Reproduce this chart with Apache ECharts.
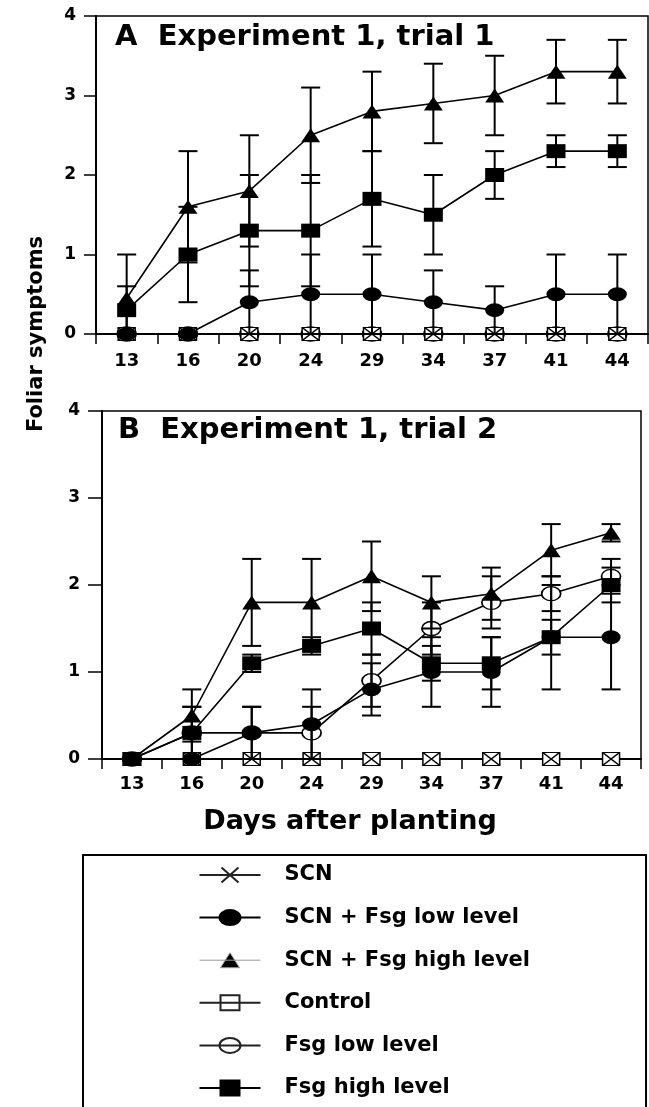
<!DOCTYPE html>
<html><head><meta charset="utf-8">
<script src="https://cdn.jsdelivr.net/npm/echarts@6/dist/echarts.min.js"></script>
<style>html,body{margin:0;padding:0;background:#fff}#c{width:649px;height:1107px}</style>
</head><body><div id="c"></div>
<script>
// ---------- data ----------
const days = ['13','16','20','24','29','34','37','41','44'];
const legendNames = ['SCN','SCN + Fsg low level','SCN + Fsg high level','Control','Fsg low level','Fsg high level'];

// Panel A : Experiment 1, trial 1
const aSCN        = [0,0,0,0,0,0,0,0,0];
const aSCNLow     = [0,0,0.4,0.5,0.5,0.4,0.3,0.5,0.5];
const aSCNLowErr  = [0,0,0.4,0.5,0.5,0.4,0.3,0.5,0.5];
const aSCNHigh    = [0.45,1.6,1.8,2.5,2.8,2.9,3.0,3.3,3.3];
const aSCNHighErr = [0.55,0.7,0.7,0.6,0.5,0.5,0.5,0.4,0.4];
const aControl    = [0,0,0,0,0,0,0,0,0];
const aFsgLow     = [0,0,0,0,0,0,0,0,0];
const aFsgLowErr  = [0,0,0,0,0,0,0,0,0];
const aFsgHigh    = [0.3,1.0,1.3,1.3,1.7,1.5,2.0,2.3,2.3];
const aFsgHighErr = [0.3,0.6,0.7,0.7,0.6,0.5,0.3,0.2,0.2];

// Panel B : Experiment 1, trial 2
const bSCN        = [0,0,0,0,0,0,0,0,0];
const bSCNLow     = [0,0,0.3,0.4,0.8,1.0,1.0,1.4,1.4];
const bSCNLowErr  = [0,0,0.3,0.4,0.3,0.4,0.4,0.6,0.6];
const bSCNHigh    = [0,0.5,1.8,1.8,2.1,1.8,1.9,2.4,2.6];
const bSCNHighErr = [0,0.3,0.5,0.5,0.4,0.3,0.3,0.3,0.1];
const bControl    = [0,0,0,0,0,0,0,0,0];
const bFsgLow     = [0,0.3,0.3,0.3,0.9,1.5,1.8,1.9,2.1];
const bFsgLowErr  = [0,0.3,0.3,0.3,0.3,0.3,0.3,0.2,0.2];
const bFsgHigh    = [0,0.3,1.1,1.3,1.5,1.1,1.1,1.4,2.0];
const bFsgHighErr = [0,0.3,0.1,0.1,0.3,0.2,0.3,0.2,0.2];

const yMin = 0, yMax = 4, yStep = 1;

// ---------- styles ----------
const FONT = 'DejaVu Sans';
const XPATH = 'path://M0,0L17,13M17,0L0,13';
const styles = {
  'SCN':                 {symbol: XPATH, symbolSize: [17,13], itemStyle: {color: 'none', borderColor: '#000', borderWidth: 1.3}},
  'SCN + Fsg low level': {symbol: 'circle', symbolSize: [19,14], itemStyle: {color: '#000', borderColor: '#000', borderWidth: 0}},
  'SCN + Fsg high level':{symbol: 'triangle', symbolSize: [19,14], itemStyle: {color: '#000', borderColor: '#000', borderWidth: 0}},
  'Control':             {symbol: 'rect', symbolSize: [17,13], itemStyle: {color: '#fff', borderColor: '#000', borderWidth: 1.3}},
  'Fsg low level':       {symbol: 'circle', symbolSize: [19,14], itemStyle: {color: '#fff', borderColor: '#000', borderWidth: 1.5}},
  'Fsg high level':      {symbol: 'rect', symbolSize: [19,14], itemStyle: {color: '#000', borderColor: '#000', borderWidth: 0}}
};
const drawOrder = ['Fsg low level','Control','SCN','SCN + Fsg low level','SCN + Fsg high level','Fsg high level'];

const panels = [
  {vals: {'SCN': aSCN, 'SCN + Fsg low level': aSCNLow, 'SCN + Fsg high level': aSCNHigh, 'Control': aControl, 'Fsg low level': aFsgLow, 'Fsg high level': aFsgHigh},
   errs: {'SCN + Fsg low level': aSCNLowErr, 'SCN + Fsg high level': aSCNHighErr, 'Fsg low level': aFsgLowErr, 'Fsg high level': aFsgHighErr}},
  {vals: {'SCN': bSCN, 'SCN + Fsg low level': bSCNLow, 'SCN + Fsg high level': bSCNHigh, 'Control': bControl, 'Fsg low level': bFsgLow, 'Fsg high level': bFsgHigh},
   errs: {'SCN + Fsg low level': bSCNLowErr, 'SCN + Fsg high level': bSCNHighErr, 'Fsg low level': bFsgLowErr, 'Fsg high level': bFsgHighErr}}
];

const series = [];
panels.forEach((p, pi) => {
  drawOrder.forEach(name => {
    const st = styles[name];
    series.push({
      name, type: 'line', xAxisIndex: pi, yAxisIndex: pi,
      data: p.vals[name], symbol: st.symbol, symbolSize: st.symbolSize,
      itemStyle: st.itemStyle, lineStyle: {color: '#000', width: 1.6},
      showAllSymbol: true, animation: false, z: 3
    });
  });
  const errData = [];
  Object.keys(p.errs).forEach(name => {
    p.errs[name].forEach((e, i) => { if (e > 0) errData.push([i, p.vals[name][i], e]); });
  });
  series.push({
    name: 'err' + pi, type: 'custom', xAxisIndex: pi, yAxisIndex: pi, z: 4, animation: false,
    data: errData, encode: {x: 0, y: 1},
    renderItem: function (params, api) {
      const i = api.value(0), v = api.value(1), e = api.value(2);
      const top = api.coord([i, Math.min(yMax, v + e)]);
      const bot = api.coord([i, Math.max(yMin, v - e)]);
      const hw = 9.5;
      const st = {stroke: '#000', lineWidth: 2};
      return {type: 'group', children: [
        {type: 'line', shape: {x1: top[0], y1: top[1], x2: bot[0], y2: bot[1]}, style: st},
        {type: 'line', shape: {x1: top[0]-hw, y1: top[1], x2: top[0]+hw, y2: top[1]}, style: st},
        {type: 'line', shape: {x1: bot[0]-hw, y1: bot[1], x2: bot[0]+hw, y2: bot[1]}, style: st}
      ]};
    }
  });
});

function xAxis(gi, margin) {
  return {type: 'category', gridIndex: gi, data: days, boundaryGap: true,
    axisLine: {show: true, lineStyle: {color: '#000', width: 2}},
    axisTick: {show: true, inside: false, length: 10, interval: 0, lineStyle: {color: '#000', width: 1.5}},
    axisLabel: {interval: 0, color: '#000', fontFamily: FONT, fontWeight: 'bold', fontSize: 18, margin},
    splitLine: {show: false}};
}
function yAxis(gi, tick, margin) {
  return {type: 'value', gridIndex: gi, min: yMin, max: yMax, interval: yStep,
    axisLine: {show: true, lineStyle: {color: '#000', width: 2}},
    axisTick: {show: true, inside: false, length: tick, lineStyle: {color: '#000', width: 1.5}},
    axisLabel: {color: '#000', fontFamily: FONT, fontWeight: 'bold', fontSize: 17, margin},
    splitLine: {show: false}};
}

const LINE = 'M0,7.5L61,7.5';
const iconShapes = {
  'SCN': 'M22,0L39,15M39,0L22,15',
  'SCN + Fsg low level': 'M20,7.5A10.5,7.5 0 1 0 41,7.5A10.5,7.5 0 1 0 20,7.5Z',
  'SCN + Fsg high level': 'M30.5,0L40,15L21,15Z',
  'Control': 'M21,0L40,0L40,15L21,15Z',
  'Fsg low level': 'M20,7.5A10.5,7.5 0 1 0 41,7.5A10.5,7.5 0 1 0 20,7.5Z',
  'Fsg high level': 'M21,0L40,0L40,15L21,15Z'
};
const iconStyles = {
  'SCN': {color: 'none', borderColor: '#222', borderWidth: 2},
  'SCN + Fsg low level': {color: '#000', borderColor: '#000', borderWidth: 2},
  'SCN + Fsg high level': {color: '#000', borderColor: '#999', borderWidth: 1},
  'Control': {color: '#fff', borderColor: '#222', borderWidth: 2},
  'Fsg low level': {color: '#fff', borderColor: '#222', borderWidth: 2},
  'Fsg high level': {color: '#000', borderColor: '#000', borderWidth: 2}
};

const option = {
  backgroundColor: '#fff',
  animation: false,
  grid: [
    {left: 96, top: 16, width: 552, height: 318, show: true, borderColor: '#000', borderWidth: 1.5, backgroundColor: 'transparent'},
    {left: 102, top: 411, width: 539, height: 348, show: true, borderColor: '#000', borderWidth: 1.5, backgroundColor: 'transparent'}
  ],
  xAxis: [xAxis(0, 18), xAxis(1, 16)],
  yAxis: [yAxis(0, 12, 20), yAxis(1, 14, 22)],
  legend: {
    orient: 'vertical', left: 83, top: 855, height: 400, padding: [9.5, 116, 40, 114],
    itemWidth: 61, itemHeight: 15, itemGap: 21.6, symbolKeepAspect: false,
    borderColor: '#000', borderWidth: 2, backgroundColor: '#fff', selectedMode: false,
    textStyle: {fontFamily: FONT, fontWeight: 'bold', fontSize: 21, color: '#000', padding: [0,0,0,19], lineHeight: 21},
    data: legendNames.map(n => ({name: n, icon: 'path://' + LINE + iconShapes[n], itemStyle: iconStyles[n]}))
  },
  graphic: [
    {type: 'text', x: 115, y: 37.5, style: {text: 'A  Experiment 1, trial 1', fontFamily: FONT, fontWeight: 'bold', fontSize: 29, fill: '#000', align: 'left', verticalAlign: 'middle'}},
    {type: 'text', x: 118, y: 430, style: {text: 'B  Experiment 1, trial 2', fontFamily: FONT, fontWeight: 'bold', fontSize: 29, fill: '#000', align: 'left', verticalAlign: 'middle'}},
    {type: 'text', x: 350, y: 822, style: {text: 'Days after planting', fontFamily: FONT, fontWeight: 'bold', fontSize: 27, fill: '#000', align: 'center', verticalAlign: 'middle'}},
    {type: 'text', x: 37, y: 334, rotation: Math.PI / 2, style: {text: 'Foliar symptoms', fontFamily: FONT, fontWeight: 'bold', fontSize: 21, fill: '#000', align: 'center', verticalAlign: 'middle'}}
  ],
  series
};
const chart = echarts.init(document.getElementById('c'), null, {renderer: 'canvas'});
chart.setOption(option);
</script></body></html>
